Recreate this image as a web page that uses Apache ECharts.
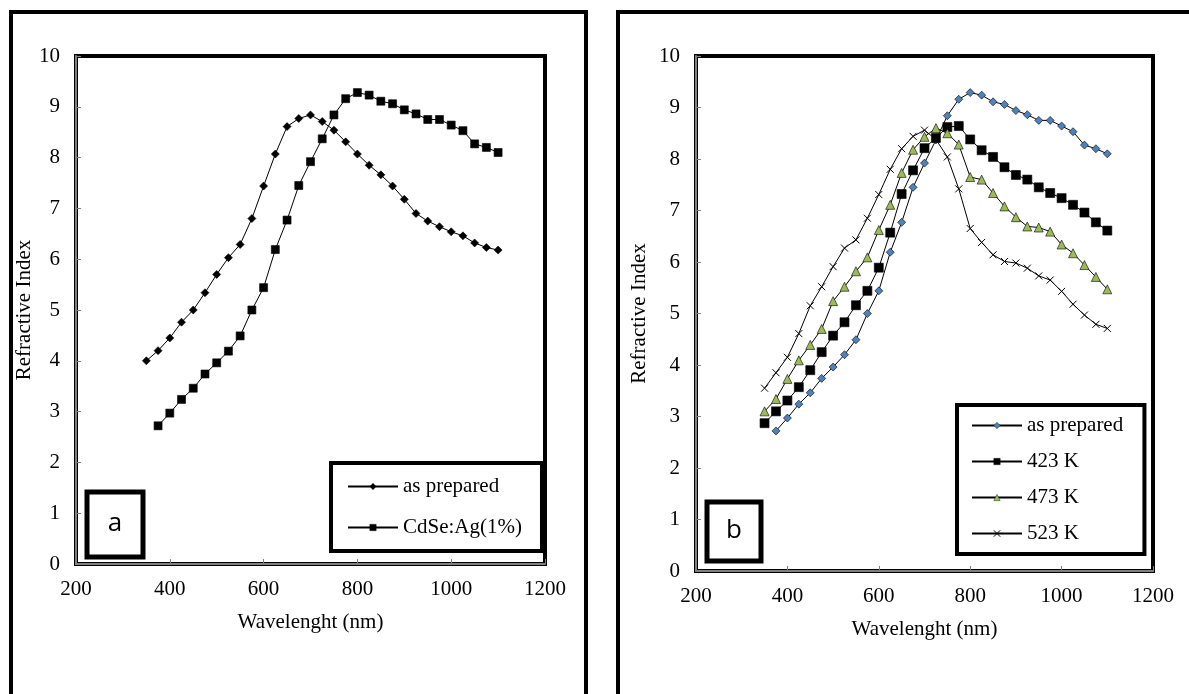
<!DOCTYPE html>
<html>
<head>
<meta charset="utf-8">
<script src="https://cdn.jsdelivr.net/npm/echarts@6/dist/echarts.min.js"></script>
<style>
  html, body { margin: 0; padding: 0; background: #fff; }
  #chart { width: 1189px; height: 694px; }
</style>
</head>
<body>
<div id="chart"></div>
<script>
// 波长 (nm)
const wlFrom350 = [350, 375, 400, 425, 450, 475, 500, 525, 550, 575, 600, 625, 650, 675, 700, 725,
  750, 775, 800, 825, 850, 875, 900, 925, 950, 975, 1000, 1025, 1050, 1075, 1100];
const wlFrom375 = wlFrom350.slice(1);

// 图 a
const aAsPrepared = [4.00, 4.20, 4.45, 4.76, 5.00, 5.34, 5.70, 6.03, 6.29, 6.80, 7.44, 8.07, 8.61, 8.77, 8.84, 8.71,
  8.54, 8.31, 8.07, 7.85, 7.66, 7.44, 7.18, 6.90, 6.75, 6.64, 6.54, 6.46, 6.32, 6.23, 6.18];
const aCdSeAg = [2.72, 2.97, 3.24, 3.46, 3.74, 3.96, 4.19, 4.49, 5.00, 5.44, 6.19, 6.77, 7.45, 7.92, 8.37,
  8.84, 9.16, 9.28, 9.23, 9.11, 9.06, 8.94, 8.86, 8.75, 8.75, 8.64, 8.53, 8.27, 8.20, 8.10];

// 图 b
const bAsPrepared = [2.72, 2.97, 3.24, 3.46, 3.74, 3.96, 4.20, 4.49, 5.00, 5.44, 6.19, 6.77, 7.45, 7.92, 8.37,
  8.84, 9.16, 9.29, 9.24, 9.11, 9.06, 8.94, 8.86, 8.75, 8.75, 8.64, 8.53, 8.27, 8.20, 8.10];
const b423K = [2.87, 3.10, 3.31, 3.57, 3.90, 4.25, 4.57, 4.83, 5.16, 5.44, 5.89, 6.57, 7.32, 7.78, 8.21, 8.41,
  8.62, 8.64, 8.38, 8.17, 8.04, 7.84, 7.69, 7.60, 7.45, 7.34, 7.24, 7.11, 6.96, 6.77, 6.61];
const b473K = [3.10, 3.34, 3.73, 4.09, 4.39, 4.70, 5.24, 5.52, 5.82, 6.09, 6.62, 7.11, 7.73, 8.18, 8.43, 8.60,
  8.50, 8.28, 7.65, 7.60, 7.34, 7.08, 6.87, 6.69, 6.67, 6.59, 6.34, 6.17, 5.94, 5.71, 5.47];
const b523K = [3.55, 3.85, 4.15, 4.61, 5.15, 5.52, 5.91, 6.27, 6.43, 6.85, 7.31, 7.80, 8.20, 8.44, 8.56, 8.38,
  8.04, 7.42, 6.65, 6.38, 6.14, 6.01, 5.98, 5.88, 5.73, 5.65, 5.43, 5.18, 4.97, 4.79, 4.71];

const xTicks = [200, 400, 600, 800, 1000, 1200];
const yTicks = [0, 1, 2, 3, 4, 5, 6, 7, 8, 9, 10];

const FONT = 'Liberation Serif';
const pair = (xs, ys) => ys.map((v, i) => [xs[i], v]);
const crossPath = 'path://M0,0L10,10M10,0L0,10';

function xAxisOf(gridIndex) {
  return {
    gridIndex, type: 'value', min: xTicks[0], max: xTicks[xTicks.length - 1], interval: 200,
    name: 'Wavelenght (nm)', nameLocation: 'middle', nameGap: 48,
    nameTextStyle: { fontFamily: FONT, fontSize: 21, color: '#000' },
    axisLine: { lineStyle: { color: '#808080', width: 2 } },
    axisTick: { inside: true, length: 5, lineStyle: { color: '#808080' } },
    axisLabel: { fontFamily: FONT, fontSize: 21, color: '#000', margin: 15, formatter: v => String(v) },
    splitLine: { show: false }
  };
}
function yAxisOf(gridIndex, gap) {
  return {
    gridIndex, type: 'value', min: yTicks[0], max: yTicks[yTicks.length - 1], interval: 1,
    name: 'Refractive Index', nameLocation: 'middle', nameGap: gap, nameRotate: 90,
    nameTextStyle: { fontFamily: FONT, fontSize: 21, color: '#000' },
    axisLine: { lineStyle: { color: '#808080', width: 2 } },
    axisTick: { inside: true, length: 5, lineStyle: { color: '#808080' } },
    axisLabel: { fontFamily: FONT, fontSize: 21, color: '#000', margin: 16 },
    splitLine: { show: false }
  };
}
function lineSeries(name, idx, data, symbol, size, fill) {
  return {
    name, type: 'line', xAxisIndex: idx, yAxisIndex: idx, data,
    symbol, symbolSize: size, showAllSymbol: true,
    lineStyle: { color: '#000', width: 1 },
    itemStyle: { color: fill, borderColor: '#000', borderWidth: symbol === crossPath ? 1 : 0.6 },
    emphasis: { disabled: true }, animation: false
  };
}

const chart = echarts.init(document.getElementById('chart'));
chart.setOption({
  backgroundColor: '#fff',
  animation: false,
  grid: [
    { left: 76, top: 56, width: 469, height: 508, show: true, borderColor: '#000', borderWidth: 4 },
    { left: 696, top: 56, width: 457, height: 515, show: true, borderColor: '#000', borderWidth: 4 }
  ],
  xAxis: [xAxisOf(0), xAxisOf(1)],
  yAxis: [yAxisOf(0, 35), yAxisOf(1, 46)],
  legend: [
    {
      data: ['as prepared', 'CdSe:Ag(1%)'],
      left: 331, top: 463, orient: 'vertical', itemGap: 20, itemWidth: 50, itemHeight: 8,
      padding: [13, 20, 13, 16], borderColor: '#000', borderWidth: 4, backgroundColor: '#fff',
      itemStyle: { borderWidth: 0.4 },
      textStyle: { fontFamily: FONT, fontSize: 21, color: '#000' }
    },
    {
      data: ['as prepared ', '423 K', '473 K', { name: '523 K', itemStyle: { borderWidth: 1 } }],
      left: 957, top: 405, orient: 'vertical', itemGap: 15, itemWidth: 50, itemHeight: 8,
      padding: [10, 16, 10, 14], borderColor: '#000', borderWidth: 4, backgroundColor: '#fff',
      itemStyle: { borderWidth: 0.4 },
      textStyle: { fontFamily: FONT, fontSize: 21, color: '#000' }
    }
  ],
  series: [
    lineSeries('as prepared', 0, pair(wlFrom350, aAsPrepared), 'diamond', 8, '#000'),
    lineSeries('CdSe:Ag(1%)', 0, pair(wlFrom375, aCdSeAg), 'rect', 8, '#000'),
    lineSeries('as prepared ', 1, pair(wlFrom375, bAsPrepared), 'diamond', 8, '#4f81bd'),
    lineSeries('423 K', 1, pair(wlFrom350, b423K), 'rect', 9, '#000'),
    lineSeries('473 K', 1, pair(wlFrom350, b473K), 'triangle', 9, '#9bbb59'),
    lineSeries('523 K', 1, pair(wlFrom350, b523K), crossPath, 7, 'none')
  ],
  graphic: [
    // 外框
    { type: 'rect', shape: { x: 11, y: 12, width: 575, height: 700 }, style: { fill: 'none', stroke: '#000', lineWidth: 4 }, z: 100 },
    { type: 'rect', shape: { x: 618, y: 12, width: 600, height: 700 }, style: { fill: 'none', stroke: '#000', lineWidth: 4 }, z: 100 },
    // a / b 标签框
    { type: 'rect', shape: { x: 87, y: 492, width: 56, height: 65 }, style: { fill: '#fff', stroke: '#000', lineWidth: 5 }, z: 100 },
    { type: 'text', x: 115, y: 524, style: { text: 'a', fontFamily: 'Open Sans', fontSize: 26, fill: '#000', align: 'center', verticalAlign: 'middle' }, z: 101 },
    { type: 'rect', shape: { x: 707, y: 502, width: 54, height: 59 }, style: { fill: '#fff', stroke: '#000', lineWidth: 5 }, z: 100 },
    { type: 'text', x: 734, y: 531, style: { text: 'b', fontFamily: 'Open Sans', fontSize: 26, fill: '#000', align: 'center', verticalAlign: 'middle' }, z: 101 }
  ]
});
</script>
</body>
</html>
